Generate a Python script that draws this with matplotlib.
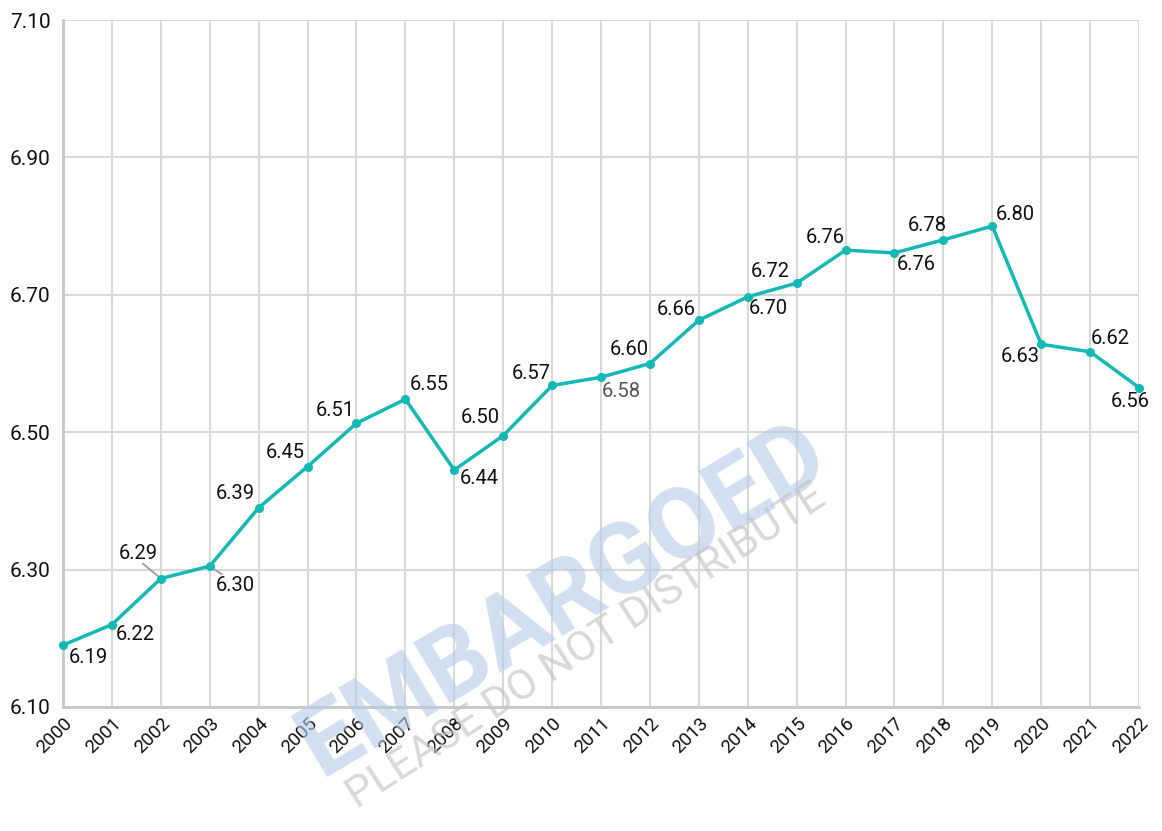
import matplotlib
matplotlib.use("Agg")
import matplotlib.pyplot as plt

plt.rcParams['font.family'] = ['Roboto', 'DejaVu Sans']

years = list(range(2000, 2023))
values = [6.19, 6.22, 6.287, 6.305, 6.39, 6.45, 6.513, 6.548, 6.445, 6.495,
          6.568, 6.58, 6.60, 6.663, 6.697, 6.717, 6.765, 6.761, 6.78, 6.80,
          6.628, 6.617, 6.565]
labels = ["6.19", "6.22", "6.29", "6.30", "6.39", "6.45", "6.51", "6.55", "6.44", "6.50",
          "6.57", "6.58", "6.60", "6.66", "6.70", "6.72", "6.76", "6.76", "6.78", "6.80",
          "6.63", "6.62", "6.56"]
# label offsets in pixels (dx, dy)
offsets = [(25, -12), (23, -10), (-23, 25), (26, -19), (-23, 14), (-22, 14), (-21, 13),
           (24, 15), (25, -9), (-23, 18), (-21, 12), (20, -14), (-21, 14), (-23, 11),
           (21, -12), (-26, 12), (-20, 13), (22, -12), (-16, 14), (23, 12), (-21, -12),
           (20, 13), (-9, -14)]
# leader line ends (pixels from point)
leaders = {2002: (-18, 15), 2003: (12, -8)}
gray_label = {2011}
yticks = [6.10, 6.30, 6.50, 6.70, 6.90, 7.10]

fig = plt.figure(figsize=(11.62, 8.31), dpi=100)
ax = fig.add_axes([63/1162, 1-707/831, (1139-63)/1162, (707-20)/831])

line_color = '#14b8b4'
ax.plot(years, values, color=line_color, lw=2.5, marker='o', ms=5.5, zorder=3,
        clip_on=False)

for yr, v, lab, (dx, dy) in zip(years, values, labels, offsets):
    col = '#555555' if yr in gray_label else '#111111'
    ax.annotate(lab, xy=(yr, v), xytext=(dx, dy), textcoords='offset pixels',
                ha='center', va='center', fontsize=14.5, color=col, zorder=4)
    if yr in leaders:
        lx, ly = leaders[yr]
        ax.annotate('', xy=(yr, v), xytext=(lx, ly), textcoords='offset pixels',
                    arrowprops=dict(arrowstyle='-', color='#9a9a9a', lw=1.3,
                                    shrinkA=0, shrinkB=0), zorder=2)

ax.set_xlim(2000, 2022)
ax.set_ylim(6.10, 7.10)
ax.set_xticks(years)
ax.set_xticklabels([str(y) for y in years], rotation=45, ha='right', va='top',
                   rotation_mode='anchor', fontsize=13.5, color='#111111')
ax.set_yticks(yticks)
ax.set_yticklabels([f"{t:.2f}" for t in yticks], fontsize=15, color='#111111')
ax.tick_params(axis='both', length=0)
ax.tick_params(axis='x', pad=5)
ax.tick_params(axis='y', pad=9)

ax.grid(True, color='#d9d9d9', lw=1.5, zorder=0)
ax.set_axisbelow(True)
for s in ['top', 'right']:
    ax.spines[s].set_visible(False)
for s in ['left', 'bottom']:
    ax.spines[s].set_color('#c8c8c8')
    ax.spines[s].set_linewidth(2)

# watermark
fig.text(0.485, 0.278, "EMBARGOED", fontsize=72, fontweight='bold', color='#b4cae6',
         alpha=0.6, rotation=31, ha='center', va='center', rotation_mode='anchor',
         zorder=5)
fig.text(0.505, 0.222, "PLEASE DO NOT DISTRIBUTE", fontsize=31, color='#c4c4c4',
         alpha=0.65, rotation=33, ha='center', va='center', rotation_mode='anchor',
         zorder=5)

fig.savefig('out.png', dpi=100)
